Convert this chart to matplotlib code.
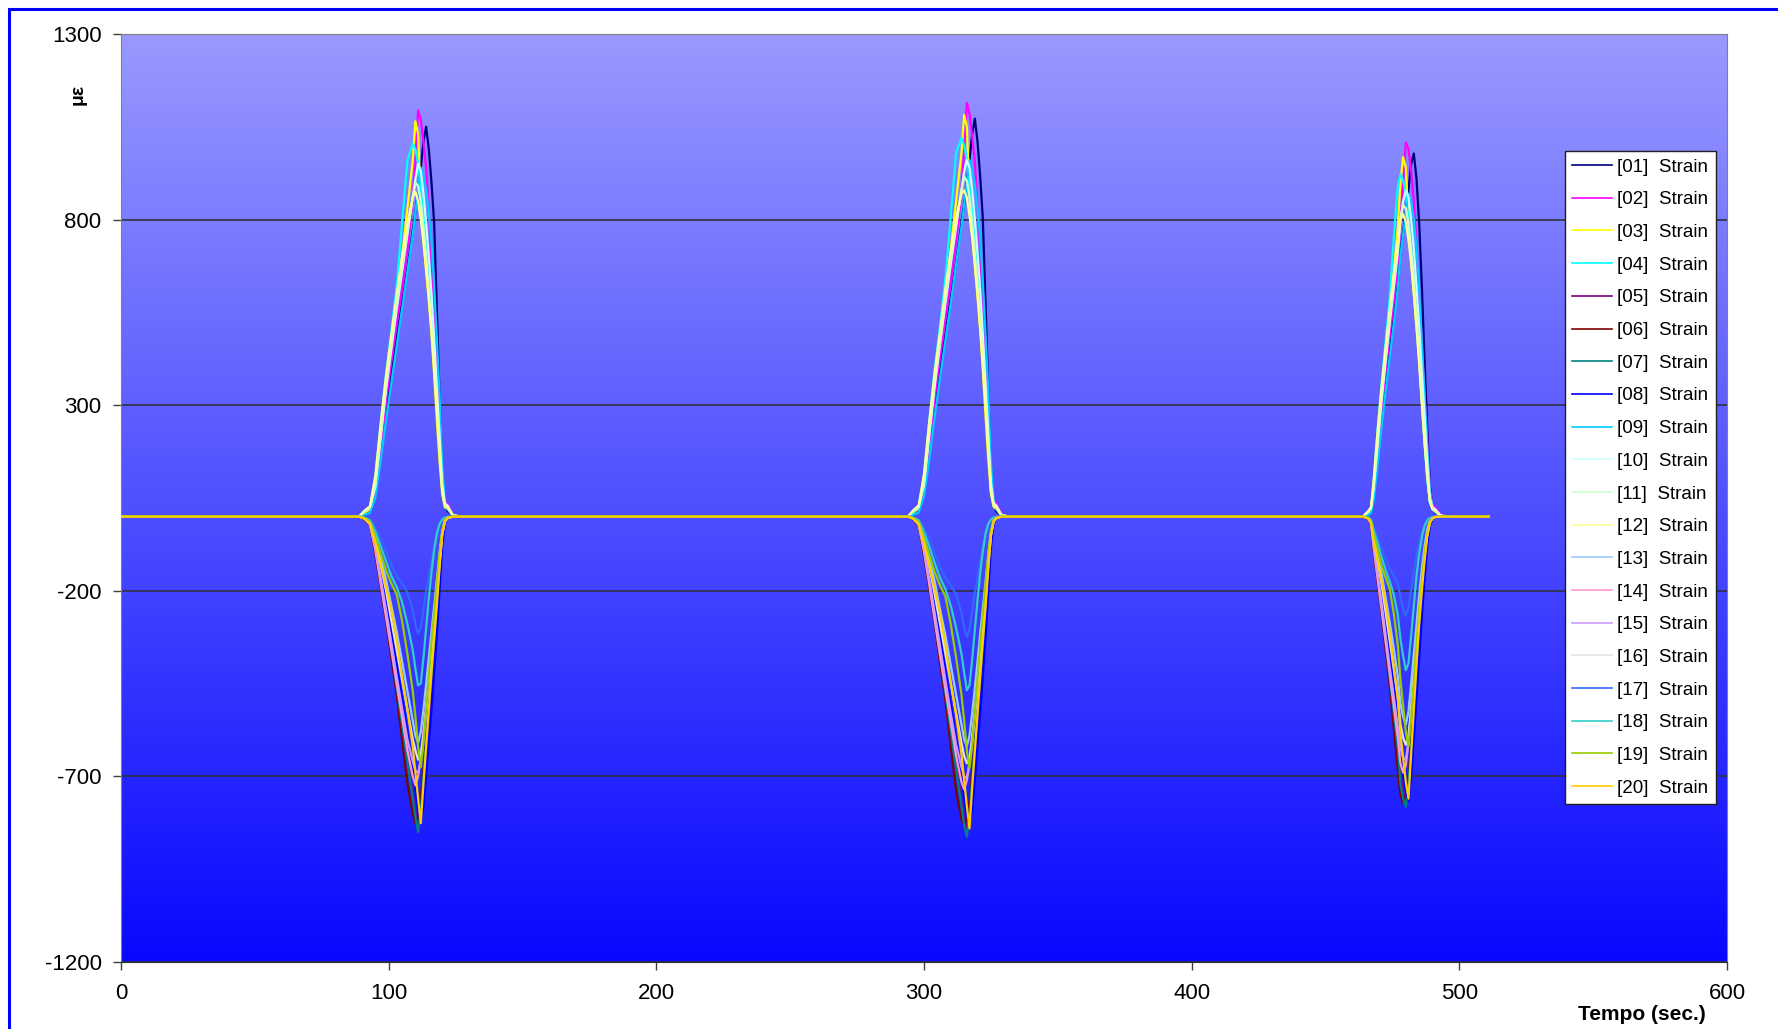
import numpy as np
import matplotlib
matplotlib.use("Agg")
import matplotlib.pyplot as plt
from matplotlib.patches import Rectangle

plt.rcParams['font.family'] = ['Liberation Sans', 'DejaVu Sans']
plt.rcParams['axes.unicode_minus'] = False

# time axis shared by all channels (sec.)
t = [0, 86,
     89, 91, 93, 95, 97, 99, 101, 103, 105, 107, 109, 110, 111, 112, 113, 114, 115, 116, 117, 118, 119, 120, 121, 122, 124, 127,
     291,
     294, 296, 298, 300, 302, 304, 306, 308, 310, 312, 314, 315, 316, 317, 318, 319, 320, 321, 322, 323, 324, 325, 326, 327, 329, 332,
     462,
     464, 466, 467, 468, 469.5, 471, 472.5, 474, 475.5, 477, 478, 479, 480, 481, 482, 483, 484, 485, 486, 487, 488, 489, 490, 491, 493, 496,
     511]

# strain readings, one list per channel (three passes each)
s01 = [0, 0,
       0, 5, 12, 60, 170, 280, 380, 480, 580, 670, 770, 820, 880, 940, 1010, 1050, 990, 900, 790, 560, 330, 120, 30, 15, 3, 0, 0,
       0, 4, 14, 65, 175, 290, 395, 490, 590, 685, 790, 840, 900, 960, 1030, 1072, 1010, 915, 800, 570, 340, 125, 32, 14, 3, 0, 0,
       0, 4, 10, 55, 160, 260, 350, 445, 540, 625, 715, 765, 820, 880, 950, 978, 910, 790, 620, 420, 240, 80, 25, 10, 2, 0, 0]
s02 = [0, 0,
       0, 8, 18, 70, 180, 310, 420, 520, 610, 720, 860, 960, 1095, 1070, 1010, 940, 820, 700, 560, 420, 280, 110, 40, 35, 5, 0, 0,
       0, 9, 20, 75, 190, 320, 430, 535, 630, 740, 880, 985, 1115, 1085, 1025, 955, 835, 715, 575, 430, 285, 115, 42, 36, 5, 0, 0,
       0, 7, 16, 65, 170, 290, 395, 490, 580, 680, 800, 900, 1008, 990, 930, 850, 730, 600, 460, 330, 200, 70, 30, 25, 4, 0, 0]
s03 = [0, 0,
       0, 10, 20, 90, 220, 360, 470, 580, 700, 830, 960, 1065, 1030, 850, 740, 660, 580, 490, 380, 260, 150, 60, 25, 20, 3, 0, 0,
       0, 11, 22, 95, 230, 370, 485, 600, 720, 850, 980, 1082, 1050, 870, 760, 675, 590, 500, 390, 270, 155, 62, 26, 20, 3, 0, 0,
       0, 9, 18, 85, 210, 340, 445, 550, 660, 780, 900, 968, 940, 790, 690, 600, 510, 420, 310, 200, 110, 40, 20, 15, 2, 0, 0]
s04 = [0, 0,
       0, 12, 25, 100, 250, 380, 500, 620, 790, 960, 1005, 990, 950, 880, 810, 730, 640, 540, 430, 310, 190, 75, 30, 25, 3, 0, 0,
       0, 12, 26, 105, 260, 395, 515, 640, 810, 980, 1020, 1000, 960, 890, 820, 740, 650, 550, 440, 320, 195, 78, 31, 25, 3, 0, 0,
       0, 10, 22, 95, 235, 360, 475, 590, 750, 890, 922, 905, 870, 800, 720, 630, 530, 420, 310, 200, 100, 40, 20, 15, 2, 0, 0]
s05 = [0, 0,
       0, -5, -20, -80, -170, -260, -350, -440, -540, -640, -750, -800, -830, -800, -720, -640, -550, -460, -370, -270, -160, -60, -15, -5, 0, 0, 0,
       0, -5, -21, -85, -175, -270, -365, -455, -560, -660, -770, -815, -840, -810, -730, -650, -560, -470, -375, -275, -165, -62, -16, -5, 0, 0, 0,
       0, -5, -18, -75, -160, -245, -330, -415, -510, -600, -700, -745, -765, -720, -620, -520, -420, -320, -220, -130, -60, -20, -5, -2, 0, 0, 0]
s06 = [0, 0,
       0, -8, -25, -100, -190, -280, -380, -480, -600, -720, -800, -826, -810, -760, -680, -600, -510, -420, -330, -240, -140, -50, -15, -5, 0, 0, 0,
       0, -8, -26, -105, -195, -290, -395, -495, -620, -740, -815, -830, -815, -770, -690, -610, -520, -430, -335, -245, -145, -52, -15, -5, 0, 0, 0,
       0, -7, -23, -95, -180, -265, -360, -455, -570, -680, -750, -770, -755, -700, -600, -500, -400, -300, -210, -130, -60, -20, -5, -2, 0, 0, 0]
s07 = [0, 0,
       0, -6, -22, -85, -175, -265, -360, -460, -560, -660, -760, -810, -850, -790, -700, -610, -520, -430, -340, -240, -140, -50, -15, -5, 0, 0, 0,
       0, -6, -23, -90, -180, -275, -375, -475, -580, -680, -780, -830, -863, -800, -710, -620, -530, -440, -345, -245, -145, -52, -15, -5, 0, 0, 0,
       0, -5, -20, -80, -165, -250, -340, -435, -530, -625, -720, -760, -782, -720, -620, -520, -420, -320, -220, -130, -60, -20, -5, -2, 0, 0, 0]
s08 = [0, 0,
       0, -4, -15, -60, -140, -220, -310, -400, -490, -580, -680, -740, -790, -818, -780, -700, -610, -520, -420, -320, -200, -80, -20, -5, 0, 0, 0,
       0, -4, -16, -65, -145, -230, -320, -415, -505, -600, -700, -760, -805, -828, -790, -710, -620, -530, -430, -325, -205, -82, -20, -5, 0, 0, 0,
       0, -4, -14, -55, -130, -205, -290, -375, -460, -545, -640, -695, -740, -765, -700, -600, -490, -380, -270, -170, -80, -25, -6, -2, 0, 0, 0]
s09 = [0, 0,
       0, 5, 10, 50, 150, 260, 360, 460, 560, 660, 760, 820, 880, 940, 920, 880, 820, 740, 620, 480, 330, 140, 40, 20, 3, 0, 0,
       0, 5, 11, 55, 155, 270, 375, 475, 575, 680, 780, 840, 900, 960, 935, 895, 830, 750, 630, 490, 340, 145, 42, 20, 3, 0, 0,
       0, 4, 9, 45, 140, 245, 340, 430, 520, 615, 705, 760, 815, 870, 850, 800, 720, 610, 470, 330, 190, 70, 25, 12, 2, 0, 0]
s10 = [0, 0,
       0, 15, 25, 80, 210, 340, 450, 560, 660, 760, 860, 910, 950, 930, 870, 790, 700, 600, 480, 350, 220, 90, 35, 30, 4, 0, 0,
       0, 16, 27, 85, 220, 350, 465, 575, 680, 780, 880, 930, 960, 940, 880, 800, 710, 610, 490, 360, 225, 92, 36, 30, 4, 0, 0,
       0, 14, 23, 75, 195, 315, 420, 520, 615, 710, 800, 850, 878, 860, 800, 720, 620, 510, 390, 270, 150, 50, 25, 20, 3, 0, 0]
s11 = [0, 0,
       0, 14, 24, 85, 220, 350, 460, 570, 670, 770, 860, 900, 890, 850, 780, 700, 610, 510, 400, 290, 180, 70, 30, 25, 3, 0, 0,
       0, 15, 25, 90, 230, 360, 470, 585, 690, 790, 880, 915, 905, 860, 790, 710, 620, 520, 410, 300, 185, 72, 31, 25, 3, 0, 0,
       0, 13, 22, 80, 205, 330, 430, 535, 630, 720, 805, 840, 830, 790, 720, 640, 540, 430, 320, 210, 110, 40, 20, 15, 2, 0, 0]
s12 = [0, 0,
       0, 16, 28, 110, 250, 380, 490, 600, 700, 790, 860, 875, 850, 800, 740, 670, 590, 500, 400, 290, 180, 70, 30, 25, 3, 0, 0,
       0, 17, 30, 115, 260, 390, 500, 615, 715, 805, 870, 879, 860, 810, 750, 680, 600, 510, 410, 300, 185, 72, 31, 25, 3, 0, 0,
       0, 15, 26, 100, 235, 355, 460, 560, 655, 740, 800, 815, 795, 745, 680, 600, 510, 410, 300, 200, 110, 40, 20, 15, 2, 0, 0]
s13 = [0, 0,
       0, -3, -12, -50, -110, -170, -240, -310, -390, -470, -550, -590, -610, -580, -520, -450, -380, -310, -240, -170, -100, -40, -10, -3, 0, 0, 0,
       0, -3, -12, -52, -115, -175, -250, -320, -400, -480, -560, -600, -620, -590, -530, -460, -390, -315, -245, -175, -102, -42, -10, -3, 0, 0, 0,
       0, -3, -11, -45, -100, -155, -220, -285, -355, -430, -505, -540, -560, -525, -450, -370, -290, -210, -140, -80, -35, -10, -3, -1, 0, 0, 0]
s14 = [0, 0,
       0, -6, -22, -90, -180, -270, -360, -450, -540, -630, -700, -724, -700, -650, -580, -510, -440, -370, -300, -220, -130, -50, -15, -5, 0, 0, 0,
       0, -6, -23, -95, -185, -280, -375, -465, -555, -645, -715, -735, -710, -660, -590, -520, -450, -375, -305, -225, -135, -52, -15, -5, 0, 0, 0,
       0, -5, -20, -85, -170, -255, -340, -425, -510, -595, -665, -690, -670, -610, -520, -430, -340, -260, -180, -110, -50, -15, -5, -2, 0, 0, 0]
s15 = [0, 0,
       0, -5, -20, -80, -165, -250, -340, -430, -515, -600, -660, -685, -690, -660, -600, -530, -450, -370, -290, -210, -120, -45, -12, -4, 0, 0, 0,
       0, -5, -21, -85, -170, -260, -350, -440, -530, -615, -675, -700, -705, -670, -610, -540, -460, -375, -295, -215, -125, -46, -12, -4, 0, 0, 0,
       0, -5, -18, -75, -155, -235, -320, -405, -485, -565, -625, -650, -655, -610, -520, -430, -340, -250, -170, -100, -45, -15, -4, -1, 0, 0, 0]
s16 = [0, 0,
       0, -4, -15, -60, -130, -200, -280, -360, -440, -520, -600, -630, -655, -640, -590, -520, -440, -360, -280, -200, -120, -45, -12, -4, 0, 0, 0,
       0, -4, -16, -62, -135, -210, -290, -370, -450, -530, -610, -645, -665, -650, -600, -530, -450, -365, -285, -205, -122, -46, -12, -4, 0, 0, 0,
       0, -4, -14, -55, -120, -185, -260, -335, -410, -485, -560, -595, -615, -590, -520, -430, -340, -250, -170, -100, -45, -15, -4, -1, 0, 0, 0]
s17 = [0, 0,
       0, -2, -8, -30, -60, -95, -130, -160, -180, -205, -250, -290, -315, -300, -250, -200, -160, -120, -80, -50, -25, -10, -4, -2, 0, 0, 0,
       0, -2, -8, -32, -62, -100, -135, -165, -185, -210, -260, -300, -324, -305, -255, -205, -165, -122, -82, -52, -26, -10, -4, -2, 0, 0, 0,
       0, -2, -7, -28, -55, -85, -115, -140, -160, -180, -215, -250, -268, -245, -200, -150, -105, -70, -45, -25, -12, -5, -2, -1, 0, 0, 0]
s18 = [0, 0,
       0, -3, -10, -40, -80, -120, -160, -190, -230, -290, -360, -410, -455, -450, -380, -300, -220, -150, -90, -45, -20, -8, -3, -1, 0, 0, 0,
       0, -3, -10, -42, -82, -125, -165, -195, -240, -300, -370, -420, -468, -455, -385, -305, -225, -152, -92, -46, -20, -8, -3, -1, 0, 0, 0,
       0, -3, -9, -36, -72, -110, -145, -175, -210, -265, -330, -375, -414, -395, -320, -240, -160, -100, -55, -25, -10, -4, -2, -1, 0, 0, 0]
s19 = [0, 0,
       0, -4, -14, -55, -100, -145, -180, -210, -280, -370, -470, -540, -620, -675, -610, -520, -430, -340, -260, -180, -100, -40, -10, -3, 0, 0, 0,
       0, -4, -15, -58, -105, -150, -185, -215, -290, -380, -480, -550, -630, -678, -615, -525, -435, -345, -265, -182, -102, -41, -10, -3, 0, 0, 0,
       0, -4, -13, -50, -92, -135, -165, -195, -260, -345, -440, -510, -580, -618, -540, -440, -340, -250, -170, -100, -45, -15, -4, -1, 0, 0, 0]
s20 = [0, 0,
       0, -6, -18, -70, -130, -190, -250, -330, -430, -520, -620, -690, -760, -826, -720, -620, -520, -420, -330, -240, -140, -50, -12, -4, 0, 0, 0,
       0, -6, -19, -72, -135, -195, -260, -345, -445, -535, -640, -710, -780, -840, -730, -630, -530, -430, -335, -245, -142, -52, -12, -4, 0, 0, 0,
       0, -5, -16, -65, -120, -175, -235, -310, -400, -490, -585, -650, -715, -760, -640, -520, -400, -290, -200, -120, -55, -18, -4, -1, 0, 0, 0]

series = [s01, s02, s03, s04, s05, s06, s07, s08, s09, s10,
          s11, s12, s13, s14, s15, s16, s17, s18, s19, s20]
labels = ["[%02d]  Strain" % (i + 1) for i in range(20)]
colors = ["#000080", "#FF00FF", "#FFFF00", "#00FFFF", "#800080",
          "#800000", "#008080", "#0000FF", "#00CCFF", "#CCFFFF",
          "#CCFFCC", "#FFFF99", "#99CCFF", "#FF99CC", "#CC99FF",
          "#E3E3E3", "#3366FF", "#33CCCC", "#99CC00", "#FFCC00"]

W, H = 1778, 1029
fig = plt.figure(figsize=(W / 100, H / 100), dpi=100)
ax = fig.add_axes([121 / W, 1 - 962 / H, (1727 - 121) / W, (962 - 34) / H])

# gradient fill of the plot area
top = np.array([153, 153, 255]) / 255
bot = np.array([8, 8, 255]) / 255
f = np.linspace(0, 1, 256)[:, None, None]
grad = top * (1 - f) + bot * f
ax.imshow(grad, extent=[0, 600, -1200, 1300], aspect='auto', zorder=0)

for y, c, lab in zip(series, colors, labels):
    ax.plot(t, y, color=c, lw=1.6, label=lab, zorder=3)

ax.set_xlim(0, 600)
ax.set_ylim(-1200, 1300)
ax.set_xticks(range(0, 601, 100))
ax.set_yticks([-1200, -700, -200, 300, 800, 1300])
ax.yaxis.grid(True, color='#303040', lw=1.2, zorder=1)
ax.tick_params(direction='out', length=6, width=1, color='#404040', labelsize=16)
ax.tick_params(axis='x', pad=9)
ax.tick_params(axis='y', pad=8)
for s in ['top', 'right', 'left']:
    ax.spines[s].set_color('#808080')
ax.spines['bottom'].set_color('#303030')

fig.text(78 / W, 1 - 94 / H, 'με', rotation=90, ha='center', va='center',
         fontsize=14, fontweight='bold')
fig.text(1706 / W, 1 - 1015 / H, 'Tempo (sec.)', ha='right', va='center',
         fontsize=15, fontweight='bold')

leg = ax.legend(loc='upper right', bbox_to_anchor=(1716 / W, 1 - 151 / H),
                bbox_transform=fig.transFigure, borderaxespad=0,
                fontsize=13.5, frameon=True, fancybox=False, framealpha=1,
                edgecolor='#202020', handlelength=2.1, handletextpad=0.3,
                labelspacing=0.83, borderpad=0.4)
leg.get_frame().set_linewidth(1.0)
for ln in leg.get_lines():
    ln.set_linewidth(1.2)

# blue chart border (cut off at right and bottom)
fig.add_artist(Rectangle((9 / W, -0.5), 2, 1 - 9 / H + 0.5, transform=fig.transFigure,
                         fill=False, edgecolor='#0000FF', lw=2.2, clip_on=False))

fig.savefig('out.png', dpi=100)
